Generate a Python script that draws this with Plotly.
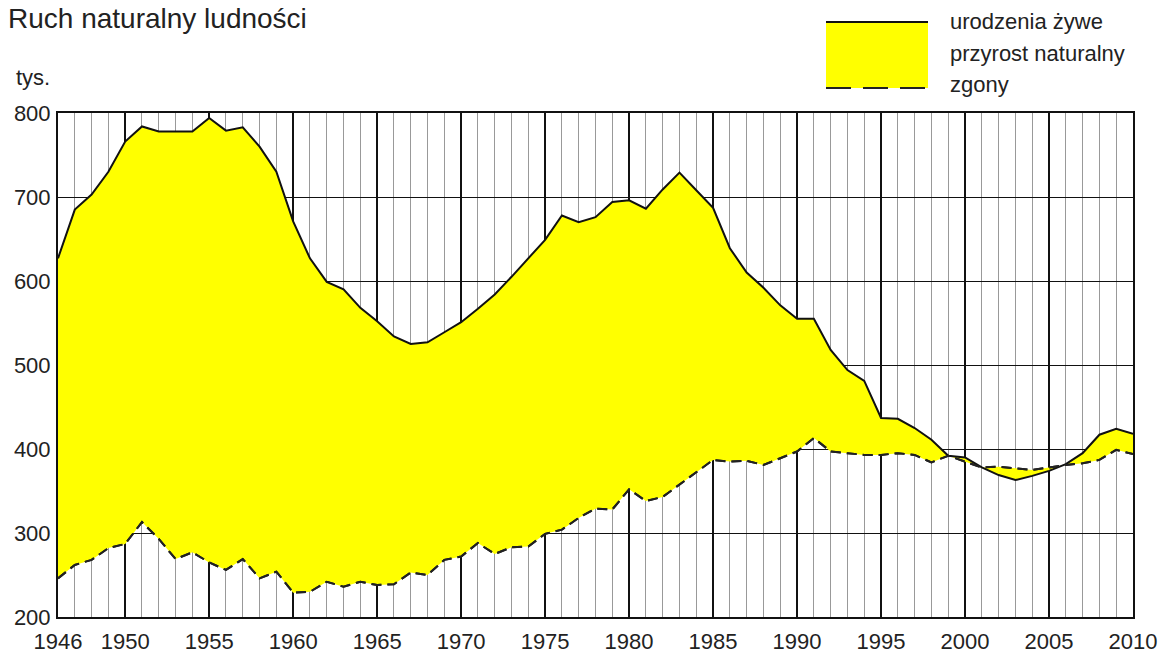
import plotly.graph_objects as go

years = list(range(1946, 2011))
births = [627, 685, 703, 730, 766, 784, 778, 778, 778, 794,
          779, 783, 760, 730, 671, 627, 599, 590, 568, 552,
          534, 525, 527, 539, 551, 567, 584, 605, 627, 649,
          678, 670, 676, 694, 696, 686, 709, 729, 708, 687,
          639, 610, 592, 571, 555, 555, 518, 494, 481, 437,
          436, 425, 411, 392, 390, 378, 369, 363, 368, 374,
          382, 395, 417, 424, 418]
deaths = [246, 262, 268, 282, 287, 313, 293, 269, 277, 265,
          256, 269, 246, 254, 229, 230, 242, 236, 242, 238,
          239, 253, 250, 268, 272, 288, 275, 283, 284, 299,
          304, 318, 329, 328, 352, 338, 343, 358, 373, 387,
          385, 386, 381, 389, 397, 413, 397, 395, 393, 393,
          395, 393, 384, 392, 385, 378, 379, 377, 375, 378,
          381, 383, 387, 399, 394]
x_tick_vals = [1946, 1950, 1955, 1960, 1965, 1970, 1975, 1980, 1985, 1990, 1995, 2000, 2005, 2010]
x_tick_text = [str(v) for v in x_tick_vals]
y_tick_vals = [200, 300, 400, 500, 600, 700, 800]

title_text = "Ruch naturalny ludności"
unit_text = "tys."
legend_labels = ["urodzenia żywe", "przyrost naturalny", "zgony"]

FONT = "Arial, Liberation Sans, sans-serif"
YELLOW = "#FFFF00"

W, H = 1159, 655
L, R, T, B = 58, 1133, 113, 617

def px(x):
    return (x - L) / (R - L)

def py(y):
    return (B - y) / (B - T)

fig = go.Figure()
fig.add_trace(go.Scatter(x=years, y=deaths, mode="lines",
                         line=dict(color="#222", width=2, dash="10px,6px"),
                         showlegend=False, hoverinfo="skip"))
fig.add_trace(go.Scatter(x=years, y=births, mode="lines", fill="tonexty",
                         fillcolor=YELLOW, line=dict(color="#111", width=2),
                         showlegend=False))
fig.add_trace(go.Scatter(x=years, y=deaths, mode="lines",
                         line=dict(color="#222", width=2, dash="10px,6px"),
                         showlegend=False))

shapes = [
    dict(type="rect", xref="paper", yref="paper", x0=px(826), x1=px(928), y0=py(88), y1=py(22),
         fillcolor=YELLOW, line=dict(width=0), layer="above"),
    dict(type="line", xref="paper", yref="paper", x0=px(826), x1=px(928), y0=py(22), y1=py(22),
         line=dict(color="#111", width=2)),
    dict(type="line", xref="paper", yref="paper", x0=px(826), x1=px(928), y0=py(88), y1=py(88),
         line=dict(color="#222", width=2, dash="25px,12px")),
]

annotations = [
    dict(text=title_text, xref="paper", yref="paper", x=px(6), y=py(18), xanchor="left", yanchor="middle",
         showarrow=False, font=dict(family=FONT, size=28, color="#222")),
    dict(text=unit_text, xref="paper", yref="paper", x=px(14), y=py(77), xanchor="left", yanchor="middle",
         showarrow=False, font=dict(family=FONT, size=22, color="#222")),
]
for lbl, yy in zip(legend_labels, [22, 54, 85]):
    annotations.append(dict(text=lbl, xref="paper", yref="paper", x=px(948), y=py(yy),
                            xanchor="left", yanchor="middle", showarrow=False,
                            font=dict(family=FONT, size=22, color="#222")))

fig.update_layout(
    width=W, height=H,
    margin=dict(l=L, r=W - R, t=T, b=H - B, autoexpand=False),
    plot_bgcolor="white", paper_bgcolor="white",
    showlegend=False,
    shapes=shapes, annotations=annotations,
    xaxis=dict(range=[1946, 2010], tickvals=x_tick_vals, ticktext=x_tick_text,
               showgrid=True, gridcolor="#111", gridwidth=1.5,
               showline=True, linecolor="#111", linewidth=2, mirror=True,
               ticks="", zeroline=False, automargin=False, ticklabelstandoff=4,
               tickfont=dict(family=FONT, size=22, color="#222"),
               minor=dict(dtick=1, tick0=1946, showgrid=True, gridcolor="#999", gridwidth=1)),
    yaxis=dict(range=[200, 800], tickvals=y_tick_vals,
               showgrid=True, gridcolor="#111", gridwidth=1,
               showline=True, linecolor="#111", linewidth=2, mirror=True,
               ticks="", zeroline=False, automargin=False, ticklabelstandoff=1,
               tickfont=dict(family=FONT, size=22, color="#222")),
)

fig.write_html("out.html", config={"displayModeBar": False},
               post_script="document.body.style.margin='0';document.body.style.overflow='hidden';")
